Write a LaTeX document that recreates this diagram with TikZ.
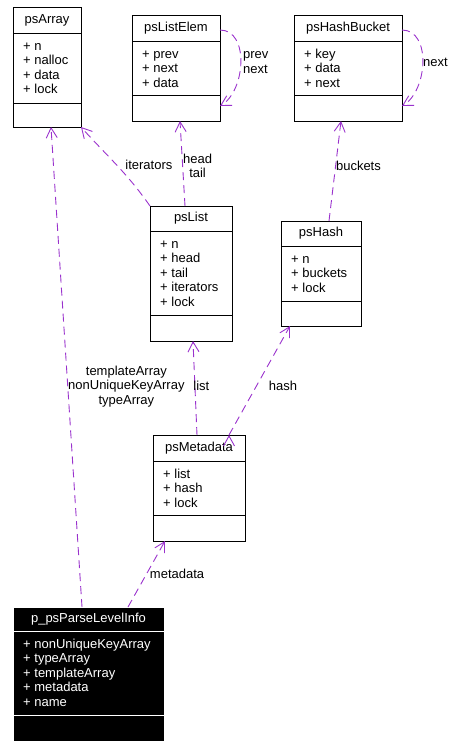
\documentclass[tikz,border=0pt]{standalone}
\usepackage{fontspec}
\setmainfont{Liberation Sans}
\usetikzlibrary{arrows.meta}

\definecolor{linkpurple}{HTML}{9A32CD}

\tikzset{
  plainclass/.style={draw=black, fill=white, text=black},
  focusclass/.style={draw=white, fill=black, text=white},
}

% [style]{name}{top left}{width}{height}{rule 1}{rule 2}{title}{members}
\newcommand{\umlclass}[9][plainclass]{%
  \node[#1, line width=1pt, outer sep=0, inner sep=0, anchor=north west,
        minimum width=#4, minimum height=#5] (#2) at (#3) {};
  \draw[#1, line width=1pt] ([yshift=-#6]#2.north west) -- ([yshift=-#6]#2.north east);
  \draw[#1, line width=1pt] ([yshift=-#7]#2.north west) -- ([yshift=-#7]#2.north east);
  \node[#1, draw=none, fill=none, inner sep=0, text height=9.5pt, text depth=2.7pt]
    at ([yshift=-#6/2]#2.north) {#8};
  \node[#1, draw=none, fill=none, inner sep=0, anchor=north west, align=left]
    at ([xshift=10, yshift=-#6-7]#2.north west) {\strut #9};
}

\begin{document}
\begin{tikzpicture}[x=1pt, y=1pt, font=\fontsize{13}{14.5}\selectfont,
  dep/.style={draw=linkpurple, line width=0.9pt, dash pattern=on 8pt off 5pt,
              -{Straight Barb[length=10pt,width=11pt]}},
  lbl/.style={inner sep=0, align=center, text=black}]

\useasboundingbox (0,0) rectangle (458,-748);

\umlclass{psArray}{13,-7}{68}{120}{26}{96}{psArray}{+ n\\+ nalloc\\+ data\\+ lock}
\umlclass{psListElem}{132,-15}{88}{106}{26}{80}{psListElem}{+ prev\\+ next\\+ data}
\umlclass{psHashBucket}{294,-15}{108}{106}{26}{80}{psHashBucket}{+ key\\+ data\\+ next}
\umlclass{psList}{150,-206}{82}{135}{25}{109}{psList}{+ n\\+ head\\+ tail\\+ iterators\\+ lock}
\umlclass{psHash}{281,-221}{80}{105}{25}{80}{psHash}{+ n\\+ buckets\\+ lock}
\umlclass{psMetadata}{153,-435}{92}{106}{26}{80}{psMetadata}{+ list\\+ hash\\+ lock}
\umlclass[focusclass]{parseInfo}{13,-607}{151}{134}{24}{108}{p\_psParseLevelInfo}%
  {+ nonUniqueKeyArray\\+ typeArray\\+ templateArray\\+ metadata\\+ name}

\path[dep]
  ([xshift=-6.5]parseInfo.north) edge node[lbl, pos=0.46, anchor=west]
      {templateArray\\nonUniqueKeyArray\\typeArray} ([xshift=4]psArray.south)
  ([xshift=39.5]parseInfo.north) edge node[lbl, pos=0.5, anchor=west, xshift=3]
      {metadata} ([xshift=-34]psMetadata.south)
  (psList.north west) edge[out=125, in=-48] node[lbl, pos=0.5, anchor=west, xshift=8]
      {iterators} (psArray.south east)
  ([xshift=-6]psList.north) edge node[lbl, pos=0.47, anchor=west]
      {head\\tail} ([xshift=4]psListElem.south)
  ([yshift=-15]psListElem.north east) edge[out=0, in=30] node[lbl, pos=0.5, anchor=west, xshift=2, align=left]
      {prev\\next} ([yshift=15]psListElem.south east)
  ([yshift=-15]psHashBucket.north east) edge[out=0, in=30] node[lbl, pos=0.5, anchor=west]
      {next} ([yshift=15]psHashBucket.south east)
  ([xshift=8]psHash.north) edge node[lbl, pos=0.55, anchor=west]
      {buckets} ([xshift=-7]psHashBucket.south)
  ([xshift=-2]psMetadata.north) edge node[lbl, pos=0.52, anchor=west, xshift=-2]
      {list} ([xshift=2]psList.south)
  ([xshift=30]psMetadata.north) edge node[lbl, pos=0.45, anchor=west, xshift=12]
      {hash} ([xshift=-31]psHash.south);
\end{tikzpicture}
\end{document}
